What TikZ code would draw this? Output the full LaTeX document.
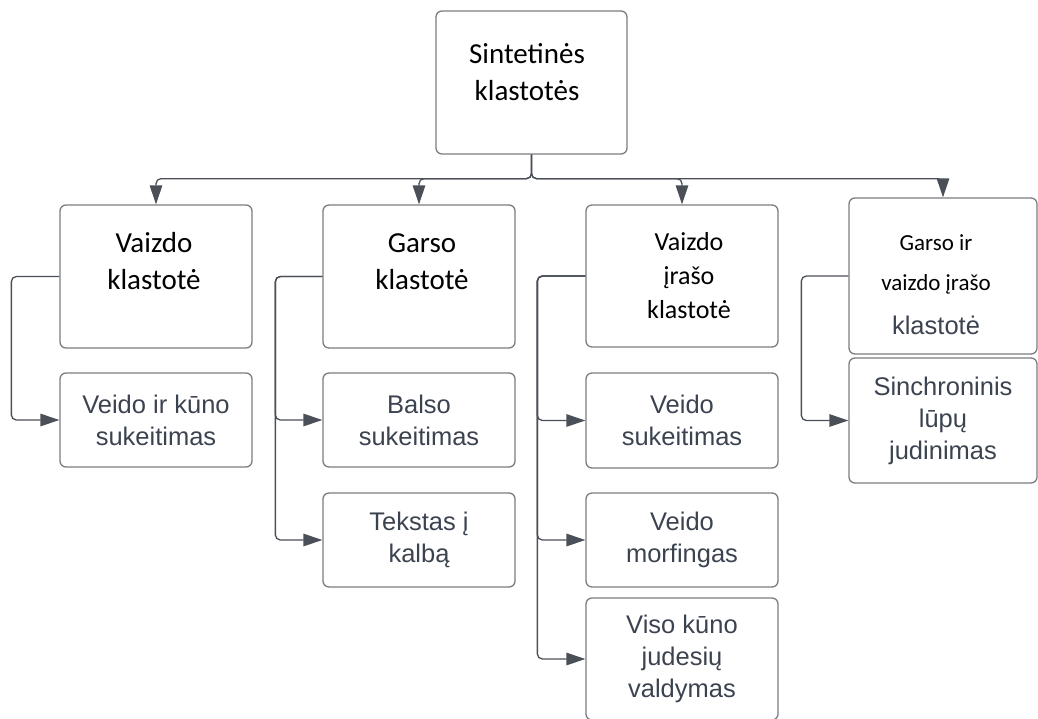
\documentclass[tikz,border=0pt]{standalone}
\usepackage{fontspec}
\setmainfont{Liberation Sans}
\newfontfamily\calibri{Carlito}
\usepackage{tikz}
\usetikzlibrary{arrows.meta}
\definecolor{boxgray}{HTML}{7A7D80}
\definecolor{linegray}{HTML}{4B5058}
\definecolor{leafgray}{HTML}{3C4350}

\begin{document}
\begin{tikzpicture}[x=1pt, y=-1pt,
    box/.style={draw=boxgray, line width=1.3pt, rounded corners=6pt, minimum width=192pt, inner sep=0pt},
    head/.style={font=\calibri\fontsize{29}{37}\selectfont, align=center},
    leaf/.style={box, text=leafgray, align=center, font=\fontsize{25.5}{32}\selectfont},
    arr/.style={draw=linegray, line width=1.3pt, rounded corners=5pt, -{Triangle[length=19pt, width=12.5pt]}}]
    \useasboundingbox (0,0) rectangle (1038,718);

    % Korenis
    \node[box, minimum width=191pt, minimum height=143pt] (top) at (531.5,82.5) {};
    \node[head] (topt) at (527,72.5) {Sintetinės\\klastotės};

    % Klastotiu rusys
    \node[box, minimum height=143pt] (b1) at (156,276.5) {};
    \node[head] (b1t) at (154,261.5) {Vaizdo\\klastotė};
    \node[box, minimum height=143pt] (b2) at (419,276.5) {};
    \node[head] (b2t) at (422,261.5) {Garso\\klastotė};
    \node[box, minimum height=142pt] (b3) at (682,276) {};
    \node[head, font=\calibri\fontsize{26}{34}\selectfont] (b3t) at (689,275.5) {Vaizdo\\įrašo\\klastotė};
    \node[box, minimum width=188pt, minimum height=156pt] (b4) at (943,276) {};
    \node[head, font=\calibri\fontsize{23}{40}\selectfont] (b4t) at (936,285)
        {Garso ir\\vaizdo įrašo\\[4pt]{\color{leafgray}\rmfamily\fontsize{25.5}{32}\selectfont klastotė}};

    % Budai
    \node[leaf, minimum height=94pt] (c11) at (156,420) {Veido ir kūno\\sukeitimas};
    \node[leaf, minimum height=94pt] (c21) at (419,420) {Balso\\sukeitimas};
    \node[leaf, minimum height=94pt] (c22) at (419,540) {Tekstas į\\kalbą};
    \node[leaf, minimum height=95pt] (c31) at (682,420.5) {Veido\\sukeitimas};
    \node[leaf, minimum height=94pt] (c32) at (682,540) {Veido\\morfingas};
    \node[leaf, minimum height=122pt] (c33) at (682,659) {Viso kūno\\judesių\\valdymas};
    \node[leaf, minimum width=188pt, minimum height=125pt] (c41) at (943,420.5) {Sinchroninis\\lūpų\\judinimas};

    % Jungtys
    \foreach \b in {b1,b2,b3,b4}
        \draw[arr] (top.south) -- ++(0,24) -| (\b.north);
    \draw[arr] (b1.west) -- ++(-48,0) |- (c11.west);
    \foreach \c in {c21,c22}
        \draw[arr] (b2.west) -- ++(-47,0) |- (\c.west);
    \foreach \c in {c31,c32,c33}
        \draw[arr] (b3.west) -- ++(-48,0) |- (\c.west);
    \draw[arr] (b4.west) -- ++(-47,0) |- (c41.west);
\end{tikzpicture}
\end{document}
